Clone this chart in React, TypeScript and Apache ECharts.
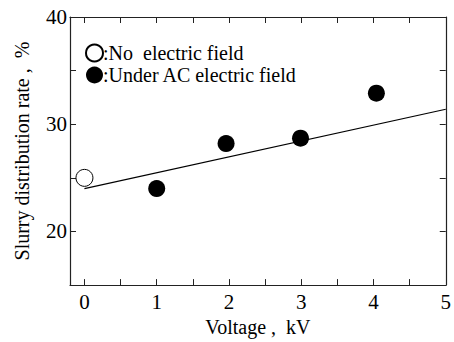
import React, { useEffect, useRef } from "react";
import * as echarts from "echarts";

const noFieldName = ":No  electric field";
const acFieldName = ":Under AC electric field";
const noFieldData: number[][] = [[0, 25.0]];
const acFieldData: number[][] = [
  [1, 24.0],
  [1.96, 28.2],
  [2.99, 28.7],
  [4.04, 32.9],
];
const fitLine: number[][] = [
  [0, 24.0],
  [5, 31.4],
];
const xLabelValues = [0, 1, 2, 3, 4, 5];
const xTickValues = [0, 0.5, 1, 1.5, 2, 2.5, 3, 3.5, 4, 4.5, 5];
const yLabelValues = [20, 30, 40];
const yTickValues = [20, 25, 30, 35, 40];

const FONT = "Liberation Serif";
const AX = "#222";

export default function App() {
  const ref = useRef<HTMLDivElement>(null);
  useEffect(() => {
    if (!ref.current) return;
    const chart = echarts.init(ref.current, undefined, { renderer: "svg" });
    const axisLine = { show: true, onZero: false, lineStyle: { color: AX, width: 1.2 } };
    chart.setOption({
      animation: false,
      backgroundColor: "#fff",
      grid: { left: 70, right: 6, top: 17, bottom: 54 },
      legend: {
        show: true,
        orient: "vertical",
        left: 80,
        top: 38,
        itemWidth: 17,
        itemHeight: 17,
        itemGap: 2,
        icon: "circle",
        textStyle: { fontFamily: FONT, fontSize: 20, lineHeight: 20, color: "#000", padding: [0, 0, 0, -5] },
        data: [noFieldName, acFieldName],
      },
      xAxis: [
        {
          type: "value",
          min: -0.2,
          max: 5,
          position: "bottom",
          name: "Voltage ,  kV",
          nameLocation: "middle",
          nameGap: 30,
          nameTextStyle: { fontFamily: FONT, fontSize: 20, color: "#000" },
          axisLine,
          splitLine: { show: false },
          axisTick: { show: true, inside: true, length: 6, customValues: xTickValues, lineStyle: { color: AX } },
          axisLabel: { fontFamily: FONT, fontSize: 21, color: "#000", margin: 6, customValues: xLabelValues },
        },
        {
          type: "value",
          min: -0.2,
          max: 5,
          position: "top",
          axisLine,
          splitLine: { show: false },
          axisTick: { show: true, inside: true, length: 6, customValues: xTickValues, lineStyle: { color: AX } },
          axisLabel: { show: false },
        },
      ],
      yAxis: [
        {
          type: "value",
          min: 15,
          max: 40,
          position: "left",
          name: "Slurry distribution rate ,  %",
          nameLocation: "middle",
          nameGap: 38,
          nameTextStyle: { fontFamily: FONT, fontSize: 20, color: "#000" },
          axisLine,
          splitLine: { show: false },
          axisTick: { show: true, inside: true, length: 6, customValues: yTickValues, lineStyle: { color: AX } },
          axisLabel: { fontFamily: FONT, fontSize: 21, color: "#000", margin: 3, customValues: yLabelValues },
        },
        {
          type: "value",
          min: 15,
          max: 40,
          position: "right",
          axisLine,
          splitLine: { show: false },
          axisTick: { show: true, inside: true, length: 6, customValues: yTickValues, lineStyle: { color: AX } },
          axisLabel: { show: false },
        },
      ],
      series: [
        {
          type: "line",
          data: fitLine,
          showSymbol: false,
          symbol: "none",
          lineStyle: { color: "#000", width: 1.2 },
          z: 1,
        },
        {
          name: noFieldName,
          type: "scatter",
          data: noFieldData,
          symbol: "circle",
          symbolSize: 17,
          itemStyle: { color: "#fff", borderColor: "#000", borderWidth: 1, opacity: 1 },
          z: 3,
        },
        {
          name: acFieldName,
          type: "scatter",
          data: acFieldData,
          symbol: "circle",
          symbolSize: 17,
          itemStyle: { color: "#000", opacity: 1 },
          z: 3,
        },
      ],
    });
    return () => chart.dispose();
  }, []);
  return (
    <div
      ref={ref}
      style={{ position: "fixed", left: 0, top: 0, width: 454, height: 342 }}
    />
  );
}
